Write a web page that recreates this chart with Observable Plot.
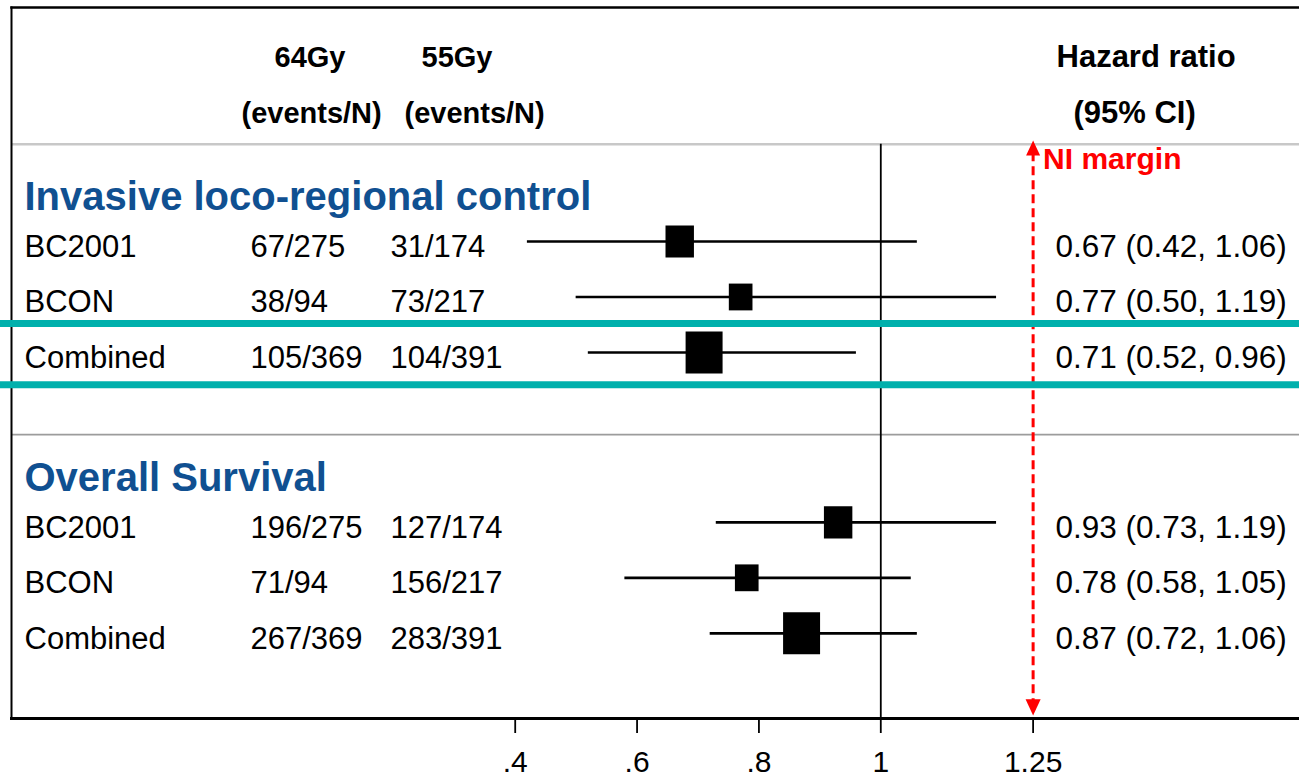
<!DOCTYPE html>
<html>
<head>
<meta charset="utf-8">
<script src="https://cdn.jsdelivr.net/npm/d3@7"></script>
<script src="https://cdn.jsdelivr.net/npm/@observablehq/plot@0.6"></script>
<style>
  html, body { margin: 0; padding: 0; background: #fff; }
  #chart svg { display: block; }
</style>
</head>
<body>
<div id="chart"></div>
<script>
// Outcomes, trials and per-arm counts (events / N)
const outcomes = ["Invasive loco-regional control", "Overall Survival"];
const studies = ["BC2001", "BCON", "Combined"];
const events64 = [[67, 38, 105], [196, 71, 267]];
const n64 = [[275, 94, 369], [275, 94, 369]];
const events55 = [[31, 73, 104], [127, 156, 283]];
const n55 = [[174, 217, 391], [174, 217, 391]];
// Hazard ratios with 95% confidence limits
const hazardRatio = [[0.67, 0.77, 0.71], [0.93, 0.78, 0.87]];
const ciLower = [[0.42, 0.50, 0.52], [0.73, 0.58, 0.72]];
const ciUpper = [[1.06, 1.19, 0.96], [1.19, 1.05, 1.06]];
// Non-inferiority margin and axis ticks
const niMargin = 1.25;
const xTicks = [0.4, 0.6, 0.8, 1, 1.25];

// ---- layout (vertical positions in row units) ----
const groupStart = [0, 5.06];
const headerLine1 = -3.15;
const headerLine2 = -2.14;
const headerRule = -1.75;
const groupRule = 3.48;
const plotBottom = 8.595;
const niTop = -1.82;
const niBottom = 8.54;

const font = "Liberation Sans, Arial, Helvetica, sans-serif";
const blue = "#105091";
const teal = "#00b0ac";
const red = "#ff0000";

const rows = [];
outcomes.forEach((outcome, g) => {
  studies.forEach((study, i) => {
    rows.push({
      outcome, study,
      row: groupStart[g] + i,
      arm64: `${events64[g][i]}/${n64[g][i]}`,
      arm55: `${events55[g][i]}/${n55[g][i]}`,
      n: n64[g][i] + n55[g][i],
      hr: hazardRatio[g][i],
      lo: ciLower[g][i],
      hi: ciUpper[g][i],
      label: `${hazardRatio[g][i].toFixed(2)} (${ciLower[g][i].toFixed(2)}, ${ciUpper[g][i].toFixed(2)})`
    });
  });
});
const titles = outcomes.map((o, g) => ({text: o, row: groupStart[g]}));
const combinedFirst = rows.find(d => d.outcome === outcomes[0] && d.study === "Combined").row;

// Box marker: slightly taller than wide, area set by the r channel
const box = {
  draw(ctx, size) {
    const s = Math.sqrt(size), w = s * 0.94, h = s * 1.065;
    ctx.rect(-w / 2, -h / 2, w, h);
  }
};
// Arrowheads with the tip at the anchor point
const arrowUp = {
  draw(ctx, size) {
    const s = Math.sqrt(size);
    ctx.moveTo(0, 0); ctx.lineTo(s / 2, s * 1.07); ctx.lineTo(-s / 2, s * 1.07); ctx.closePath();
  }
};
const arrowDown = {
  draw(ctx, size) {
    const s = Math.sqrt(size);
    ctx.moveTo(0, 0); ctx.lineTo(s / 2, -s * 1.07); ctx.lineTo(-s / 2, -s * 1.07); ctx.closePath();
  }
};

const tickFormat = v => v === 1 ? "1" : String(v).replace(/^0\./, ".");

const txt = (data, opts) => Plot.text(data, {
  frameAnchor: "left", textAnchor: "start", lineAnchor: "bottom",
  fontFamily: font, fill: "black", ...opts
});

const chart = Plot.plot({
  width: 1299,
  height: 779,
  marginLeft: 11,
  marginRight: 0,
  marginTop: 7,
  marginBottom: 61,
  style: {fontFamily: font, background: "#fff", overflow: "visible"},
  x: {domain: [-0.4267, 1.6872]},
  y: {domain: [-4.216, plotBottom], reverse: true, axis: null},
  r: {type: "sqrt", range: [0, 22.2]},
  marks: [
    // separators
    Plot.ruleY([headerRule], {stroke: "#c8c8c8", strokeWidth: 2.5}),
    Plot.ruleY([groupRule], {stroke: "#9c9c9c", strokeWidth: 1.6}),
    // outer border
    Plot.frame({anchor: "top", strokeWidth: 2.5}),
    Plot.frame({anchor: "left", strokeWidth: 2}),
    Plot.frame({anchor: "bottom", strokeWidth: 3}),
    // line of no effect
    Plot.ruleX([1], {y1: () => headerRule, y2: () => plotBottom, stroke: "black", strokeWidth: 1.8}),
    // non-inferiority margin
    Plot.ruleX([niMargin], {y1: () => niTop + 0.22, y2: () => niBottom - 0.22, stroke: red, strokeWidth: 3, strokeDasharray: "9,5"}),
    Plot.dot([niMargin], {x: d => d, y: () => niTop, symbol: arrowUp, r: 7.9, fill: red, stroke: null}),
    Plot.dot([niMargin], {x: d => d, y: () => niBottom, symbol: arrowDown, r: 8.5, fill: red, stroke: null}),
    Plot.text([niMargin], {x: d => d, y: () => niTop, text: () => "NI margin", dx: 10, dy: 29, textAnchor: "start", lineAnchor: "bottom", fontFamily: font, fontSize: 30, fontWeight: "bold", fill: red}),
    // confidence intervals and point estimates
    Plot.ruleY(rows, {y: "row", x1: "lo", x2: "hi", stroke: "black", strokeWidth: 2.7}),
    Plot.dot(rows, {x: "hr", y: "row", r: "n", symbol: box, fill: "black", stroke: null}),
    // highlight around the combined loco-regional result
    Plot.ruleY([combinedFirst - 0.52, combinedFirst + 0.58], {stroke: teal, strokeWidth: 7, insetLeft: -11}),
    // column headers
    txt(["64Gy"], {y: () => headerLine1, text: d => d, dx: 263, fontSize: 29, fontWeight: "bold"}),
    txt(["55Gy"], {y: () => headerLine1, text: d => d, dx: 410, fontSize: 29, fontWeight: "bold"}),
    txt(["(events/N)"], {y: () => headerLine2, text: d => d, dx: 230, fontSize: 29, fontWeight: "bold"}),
    txt(["(events/N)"], {y: () => headerLine2, text: d => d, dx: 393, fontSize: 29, fontWeight: "bold"}),
    txt(["Hazard ratio"], {y: () => headerLine1, text: d => d, dx: 1045, fontSize: 31, fontWeight: "bold"}),
    txt(["(95% CI)"], {y: () => headerLine2, text: d => d, dx: 1062, fontSize: 31, fontWeight: "bold"}),
    // section titles
    txt(titles, {y: "row", text: "text", dx: 13, dy: -31.5, fontSize: 40, fontWeight: "bold", fill: blue}),
    // table columns
    txt(rows, {y: "row", text: "study", dx: 13, dy: 15.5, fontSize: 31}),
    txt(rows, {y: "row", text: "arm64", dx: 239, dy: 15.5, fontSize: 31}),
    txt(rows, {y: "row", text: "arm55", dx: 379, dy: 15.5, fontSize: 31}),
    txt(rows, {y: "row", text: "label", dx: 1044, dy: 15.5, fontSize: 31.5}),
    // x axis
    Plot.axisX(xTicks, {tickSize: 15, tickPadding: 17, fontSize: 30, tickFormat, label: null, strokeWidth: 1.8, fontFamily: font})
  ]
});

document.getElementById("chart").appendChild(chart);
</script>
</body>
</html>
